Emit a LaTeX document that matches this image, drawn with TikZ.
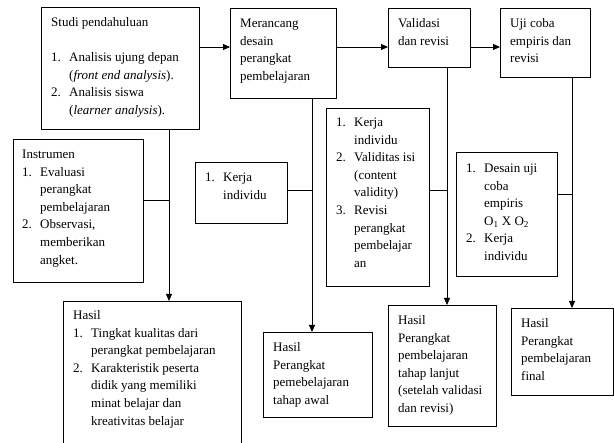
\documentclass[tikz,border=0pt]{standalone}
\usepackage{fontspec}
\setmainfont{Liberation Serif}
\usetikzlibrary{arrows.meta}
\newcommand\nm[1]{\makebox[18pt][l]{#1}}
\newcommand\hg{\hspace*{18pt}}
\tikzset{
  bx/.style={draw, line width=0.8pt, inner sep=0pt, anchor=north west},
  tx/.style={anchor=north west, inner sep=0pt, align=left, font=\fontsize{13}{17.6}\selectfont},
  ln/.style={line width=0.8pt},
  arr/.style={line width=0.8pt, -{Triangle[length=7pt,width=6pt]}}
}
\begin{document}
\begin{tikzpicture}[x=1pt,y=-1pt]
\clip (0,0) rectangle (614,443);
\fill[white] (0,0) rectangle (614,443);
% boxes
\node[bx, minimum width=158, minimum height=122] (b1) at (41,7) {};
\node[bx, minimum width=106, minimum height=90] (b2) at (230,8) {};
\node[bx, minimum width=82, minimum height=59] (b3) at (388,8) {};
\node[bx, minimum width=90, minimum height=69] (b4) at (500,8) {};
\node[bx, minimum width=130, minimum height=143] (ins) at (13,139) {};
\node[bx, minimum width=92, minimum height=61] (k1) at (195,162) {};
\node[bx, minimum width=103, minimum height=178] (k2) at (326,108) {};
\node[bx, minimum width=101, minimum height=124] (k3) at (456,152) {};
\node[bx, minimum width=178, minimum height=150] (h1) at (63,301) {};
\node[bx, minimum width=109, minimum height=85] (h2) at (263,332) {};
\node[bx, minimum width=108, minimum height=121] (h3) at (388,305) {};
\node[bx, minimum width=102, minimum height=87] (h4) at (511,308) {};
% texts
\node[tx] (b1t) at ([shift={(10,7)}]b1.north west) {\strut Studi pendahuluan\\[17.6pt]
  \nm{1.}Analisis ujung depan\\ \hg(\textit{front end analysis}).\\
  \nm{2.}Analisis siswa\\ \hg(\textit{learner analysis}).};
\node[tx] (b2t) at ([shift={(10,7)}]b2.north west) {\strut Merancang\\desain\\perangkat\\pembelajaran};
\node[tx] (b3t) at ([shift={(10,7)}]b3.north west) {\strut Validasi\\dan revisi};
\node[tx] (b4t) at ([shift={(10,7)}]b4.north west) {\strut Uji coba\\empiris dan\\revisi};
\node[tx] (inst) at ([shift={(9,7)}]ins.north west) {\strut Instrumen\\
  \nm{1.}Evaluasi\\ \hg perangkat\\ \hg pembelajaran\\
  \nm{2.}Observasi,\\ \hg memberikan\\ \hg angket.};
\node[tx] (k1t) at ([shift={(10,7)}]k1.north west) {\strut\nm{1.}Kerja\\ \hg individu};
\node[tx] (k2t) at ([shift={(10,6)}]k2.north west) {\strut\nm{1.}Kerja\\ \hg individu\\
  \nm{2.}Validitas isi\\ \hg(content\\ \hg validity)\\
  \nm{3.}Revisi\\ \hg perangkat\\ \hg pembelajar\\ \hg an};
\node[tx] (k3t) at ([shift={(10,8)}]k3.north west) {\strut\nm{1.}Desain uji\\ \hg coba\\ \hg empiris\\
  \hg O\textsubscript{1} X O\textsubscript{2}\\
  \nm{2.}Kerja\\ \hg individu};
\node[tx] (h1t) at ([shift={(10,6)}]h1.north west) {\strut Hasil\\
  \nm{1.}Tingkat kualitas dari\\ \hg perangkat pembelajaran\\
  \nm{2.}Karakteristik peserta\\ \hg didik yang memiliki\\ \hg minat belajar dan\\ \hg kreativitas belajar};
\node[tx] (h2t) at ([shift={(10,7)}]h2.north west) {\strut Hasil\\Perangkat\\pemebelajaran\\tahap awal};
\node[tx] (h3t) at ([shift={(10,7)}]h3.north west) {\strut Hasil\\Perangkat\\pembelajaran\\tahap lanjut\\(setelah validasi\\dan revisi)};
\node[tx] (h4t) at ([shift={(10,7)}]h4.north west) {\strut Hasil\\Perangkat\\pembelajaran\\final};
% helper coordinates
\coordinate (ry) at (0,47);
\coordinate (v1) at (169,0);
\coordinate (v2) at (312,0);
\coordinate (v3) at (447,0);
\coordinate (v4) at (572,0);
\coordinate (y1) at (0,200);
\coordinate (y2) at (0,190);
\coordinate (y3) at (0,194);
% top arrows
\draw[arr] (b1.east |- ry) -- (b2.west |- ry);
\draw[arr] (b2.east |- ry) -- (b3.west |- ry);
\draw[arr] (b3.east |- ry) -- (b4.west |- ry);
% vertical arrows
\draw[arr] (b1.south -| v1) -- (h1.north -| v1);
\draw[arr] (b2.south -| v2) -- (h2.north -| v2);
\draw[arr] (b3.south -| v3) -- (h3.north -| v3);
\draw[arr] (b4.south -| v4) -- (h4.north -| v4);
% side connectors
\draw[ln] (ins.east |- y1) -- (v1 |- y1);
\draw[ln] (k1.east |- y2) -- (v2 |- y2);
\draw[ln] (k2.east |- y2) -- (v3 |- y2);
\draw[ln] (k3.east |- y3) -- (v4 |- y3);
\end{tikzpicture}
\end{document}
